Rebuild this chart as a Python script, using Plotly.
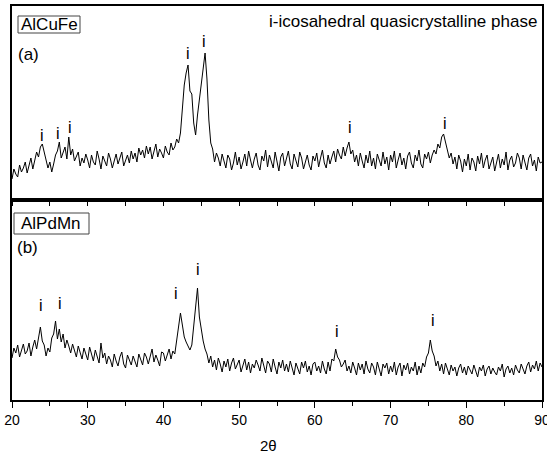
import numpy as np
import plotly.graph_objects as go

# ---------------- data ----------------
TWO_THETA_START = 20.0
TWO_THETA_STEP = 0.25
N_POINTS = 281

# (a) AlCuFe, intensity (a.u.), 20..90 deg in 0.25 deg steps
alcufe = [
    20, 30, 25, 22, 34, 27, 31, 37,
    26, 33, 41, 30, 38, 47, 42, 52,
    55, 46, 40, 31, 37, 27, 35, 44,
    48, 57, 41, 47, 52, 40, 62, 44,
    50, 38, 43, 47, 33, 41, 36, 45,
    39, 31, 44, 37, 34, 48, 40, 30,
    43, 37, 33, 46, 40, 31, 38, 45,
    35, 42, 47, 33, 39, 44, 36, 48,
    40, 46, 37, 51, 44, 49, 41, 53,
    45, 52, 40, 47, 55, 42, 50, 46,
    41, 53, 47, 44, 56, 49, 52, 60,
    56, 66, 88, 114, 126, 134, 108, 105,
    76, 64, 84, 100, 118, 134, 146, 120,
    79, 56, 50, 37, 46, 41, 33, 45,
    38, 31, 44, 40, 29, 36, 47, 34,
    42, 30, 37, 45, 33, 48, 39, 31,
    40, 46, 34, 29, 43, 38, 49, 32,
    44, 36, 31, 47, 39, 28, 42, 46,
    33, 40, 48, 35, 30, 45, 38, 32,
    47, 41, 30, 37, 44, 34, 29, 43,
    38, 46, 32, 41, 49, 36, 31, 44,
    35, 42, 48, 37, 50, 44, 40, 52,
    43, 51, 57, 45, 49, 37, 44, 33,
    46, 38, 31, 44, 36, 48, 33, 41,
    30, 45, 39, 33, 47, 35, 42, 29,
    44, 37, 48, 31, 39, 46, 34, 41,
    30, 43, 47, 36, 31, 44, 38, 49,
    35, 31, 45, 40, 47, 36, 44, 49,
    45, 55, 51, 62, 65, 56, 50, 41,
    46, 35, 42, 30, 44, 38, 27, 40,
    33, 45, 29, 41, 37, 28, 43, 35,
    46, 31, 39, 44, 30, 36, 42, 28,
    37, 45, 31, 40, 34, 47, 29, 39,
    43, 32, 36, 46, 41, 30, 44, 35,
    29, 41, 45, 33, 39, 28, 42, 36,
    37,
]

# (b) AlPdMn, intensity (a.u.)
alpdmn = [
    39, 49, 44, 52, 40, 47, 53, 43,
    46, 54, 41, 50, 57, 48, 61, 70,
    56, 52, 41, 49, 45, 59, 63, 76,
    58, 68, 55, 63, 49, 57, 51, 44,
    53, 47, 40, 51, 45, 38, 49, 42,
    37, 50, 44, 36, 47, 41, 34, 54,
    39, 44, 33, 41, 37, 30, 43, 36,
    31, 40, 45, 33, 29, 42, 37, 32,
    41, 35, 30, 43, 38, 32, 44, 40,
    33, 41, 48, 35, 42, 37, 31, 45,
    44, 36, 42, 48, 38, 46, 43, 56,
    70, 84, 72, 60, 55, 50, 47, 52,
    69, 90, 109, 80, 65, 56, 48, 43,
    34, 41, 30, 37, 27, 39, 33, 25,
    36, 30, 38, 26, 34, 39, 28, 33,
    37, 25, 31, 38, 27, 35, 24, 33,
    29, 37, 32, 26, 39, 30, 24, 36,
    33, 25, 38, 30, 23, 35, 29, 37,
    26, 33, 25, 36, 30, 22, 34, 28,
    23, 35, 29, 36, 25, 31, 22, 33,
    35, 26, 31, 24, 36, 28, 23, 35,
    26, 38, 36, 48, 40, 37, 30, 33,
    37, 26, 31, 24, 35, 29, 22, 34,
    27, 33, 23, 36, 28, 24, 34, 30,
    22, 35, 27, 21, 33, 29, 34, 23,
    31, 25, 35, 22, 30, 34, 21, 32,
    27, 34, 23, 30, 26, 35, 22, 31,
    24, 34, 30, 40, 44, 57, 46, 41,
    31, 36, 26, 33, 23, 34, 28, 22,
    32, 26, 30, 21, 29, 33, 24, 30,
    22, 31, 27, 23, 32, 25, 20, 30,
    26, 32, 21, 28, 31, 23, 29, 25,
    22, 30, 26, 33, 20, 28, 31, 24,
    29, 22, 32, 27, 24, 33, 28, 23,
    31, 35, 25, 32, 28, 36, 26, 34,
    30,
]

two_theta = TWO_THETA_START + TWO_THETA_STEP * np.arange(N_POINTS)

# i-phase peak markers (2theta, label height)
peaks_a_x = [24.0, 26.1, 27.6, 43.2, 45.4, 64.7, 77.2]
peaks_a_y = [64, 66, 72, 146, 158, 72, 76]
peaks_b_x = [23.8, 26.3, 41.7, 44.6, 62.95, 75.6]
peaks_b_y = [92, 94, 104, 128, 66, 77]

x_ticks = [20, 30, 40, 50, 60, 70, 80, 90]

# ---------------- layout helpers ----------------
W, H = 547, 454
ML, MR, MT, MB = 12, 5, 6, 54
PW = W - ML - MR
PH = H - MT - MB
SPLIT = 200  # pixel row of panel boundary


def px(xp):
    return (xp - ML) / PW


def py(yp):
    return (H - MB - yp) / PH


split = py(SPLIT)
FONT = "Arial, Liberation Sans, sans-serif"

fig = go.Figure()
fig.add_trace(go.Scatter(x=two_theta, y=alcufe, xaxis="x", yaxis="y", mode="lines",
                         line=dict(color="black", width=1), showlegend=False))
fig.add_trace(go.Scatter(x=two_theta, y=alpdmn, xaxis="x2", yaxis="y2", mode="lines",
                         line=dict(color="black", width=1), showlegend=False))

axis_common = dict(showline=True, mirror=True, linecolor="black", linewidth=1.5,
                   showgrid=False, zeroline=False, automargin=False)

annotations = []
for x, y in zip(peaks_a_x, peaks_a_y):
    annotations.append(dict(x=x, y=y, xref="x", yref="y", text="i", showarrow=False,
                            font=dict(size=16, color="#000000", family=FONT),
                            xanchor="center", yanchor="middle"))
for x, y in zip(peaks_b_x, peaks_b_y):
    annotations.append(dict(x=x, y=y, xref="x2", yref="y2", text="i", showarrow=False,
                            font=dict(size=16, color="#000000", family=FONT),
                            xanchor="center", yanchor="middle"))

texts = [
    ("AlCuFe", 49, 25, "center", 17),
    ("(a)", 16, 54, "left", 17),
    ("i-icosahedral quasicrystalline phase", 539, 21.5, "right", 17),
    ("AlPdMn", 51, 223.5, "center", 17),
    ("(b)", 14.5, 247.5, "left", 17),
    ("2θ", 268, 445, "center", 15),
]
for t, xx, yy, anc, fs in texts:
    annotations.append(dict(x=px(xx), y=py(yy), xref="paper", yref="paper", text=t,
                            showarrow=False, xanchor=anc, yanchor="middle",
                            font=dict(size=fs, color="black", family=FONT)))

shapes = [
    dict(type="rect", xref="paper", yref="paper", x0=px(18), x1=px(80), y0=py(33), y1=py(16),
         line=dict(color="#444444", width=1)),
    dict(type="rect", xref="paper", yref="paper", x0=px(14), x1=px(89), y0=py(234), y1=py(213),
         line=dict(color="#444444", width=1)),
]

fig.update_layout(
    width=W, height=H,
    margin=dict(l=ML, r=MR, t=MT, b=MB, pad=0, autoexpand=False),
    paper_bgcolor="white", plot_bgcolor="white",
    font=dict(family=FONT, color="black"),
    hovermode=False,
    xaxis=dict(domain=[0, 1], anchor="y", range=[20, 90], tickvals=x_ticks,
               ticks="outside", ticklen=4, tickwidth=1, tickcolor="black",
               showticklabels=False,
               minor=dict(dtick=5, tick0=20, ticks="outside", ticklen=4, tickwidth=1, tickcolor="black"),
               **axis_common),
    yaxis=dict(domain=[split, 1], anchor="x", range=[-1, 193], showticklabels=False,
               ticks="", **axis_common),
    xaxis2=dict(domain=[0, 1], anchor="y2", range=[20, 90], tickvals=x_ticks,
                ticktext=[str(v) for v in x_ticks],
                ticks="outside", ticklen=6, tickwidth=1, tickcolor="black",
                ticklabeloverflow="allow",
                tickfont=dict(size=14, family=FONT, color="black"),
                minor=dict(dtick=5, tick0=20, ticks="outside", ticklen=4, tickwidth=1, tickcolor="black"),
                **axis_common),
    yaxis2=dict(domain=[0, split], anchor="x2", range=[-3, 197], showticklabels=False,
                ticks="", **axis_common),
    annotations=annotations,
    shapes=shapes,
)

fig.write_html("out.html", config={"displayModeBar": False},
               post_script="document.body.style.margin='0px';document.body.style.overflow='hidden';")
